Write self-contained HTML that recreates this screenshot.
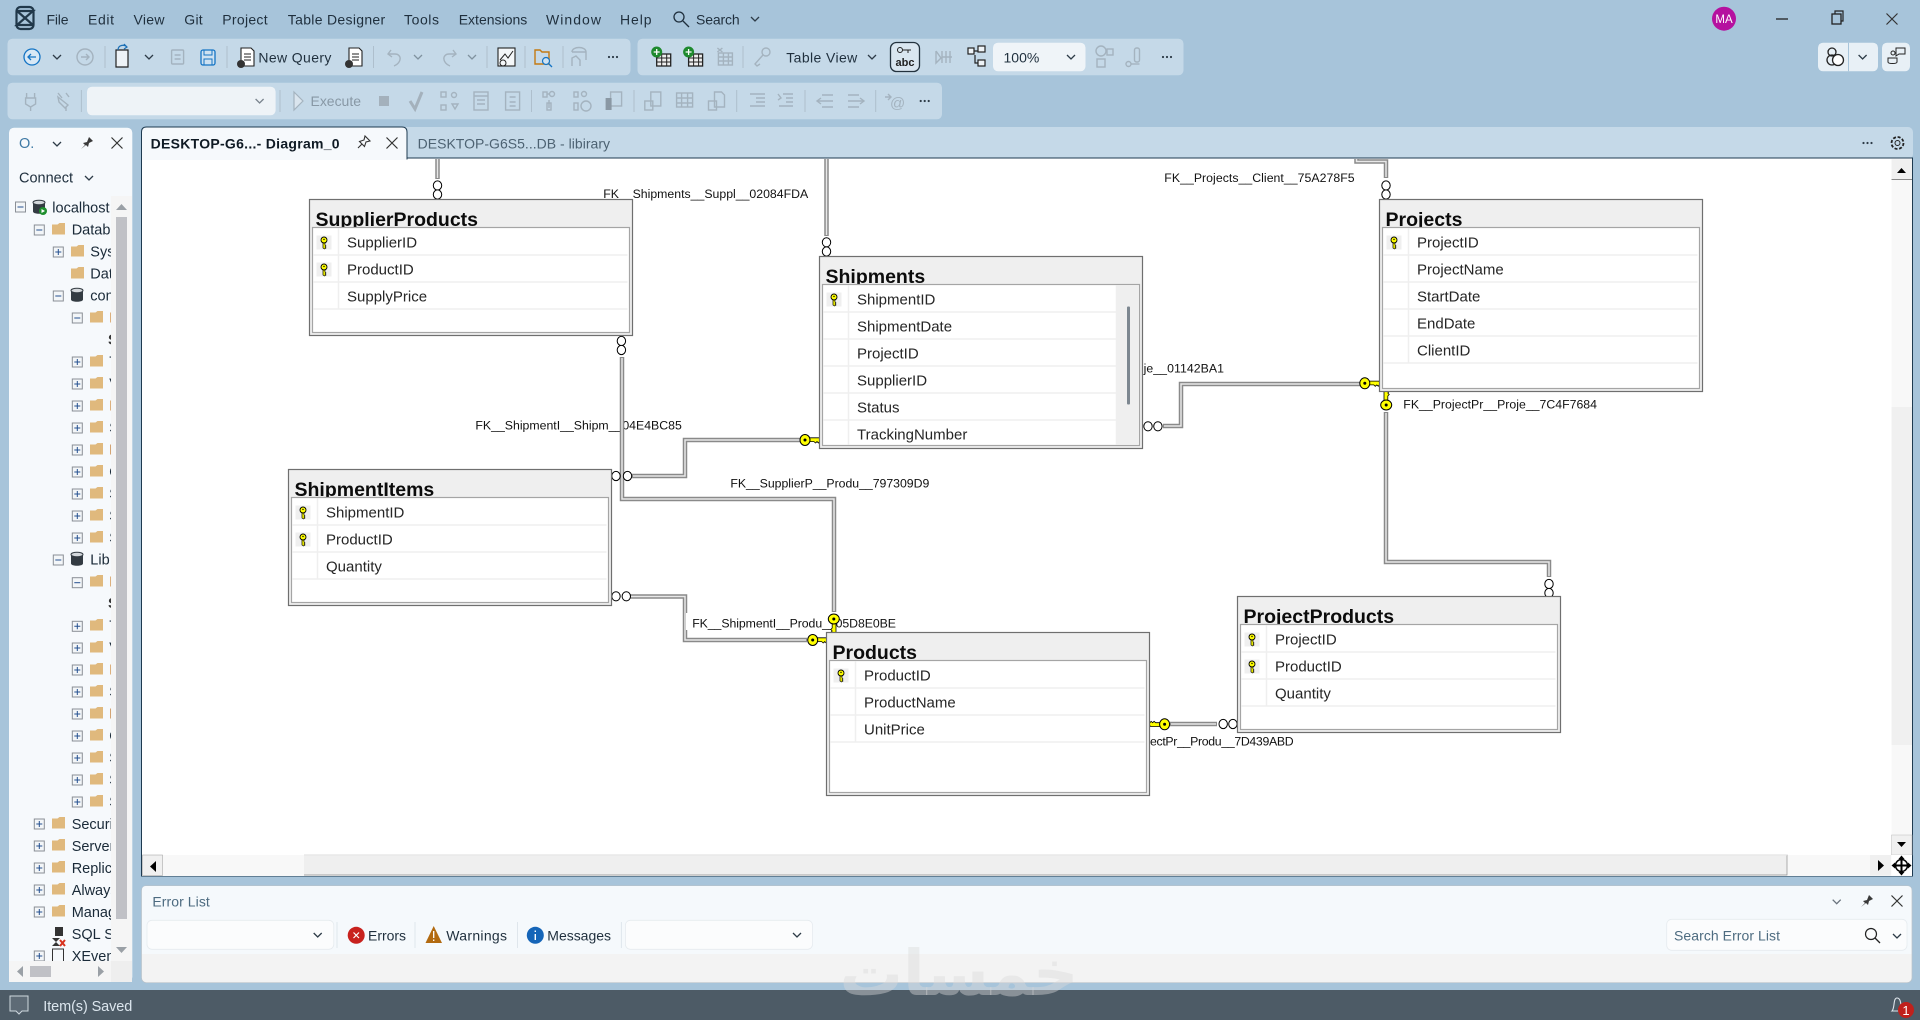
<!DOCTYPE html>
<html><head><meta charset="utf-8"><title>Diagram</title>
<style>
html,body{margin:0;padding:0;background:#a7c4da;width:1920px;height:1020px;overflow:hidden}
svg{display:block;position:absolute;left:0;top:0}
text{font-family:"Liberation Sans",sans-serif;white-space:pre}
.m{font-size:14px;fill:#1f2f3d}
.lb{font-size:12.3px;fill:#111}
.f{font-size:15px;fill:#262626}
.t{font-size:19.5px;font-weight:bold;fill:#0c0c0c}
.tr{font-size:14.5px;fill:#1a2a38}
.c{stroke:#8a8a8a;stroke-width:4.5;fill:none}
.d{stroke:#e8e8e8;stroke-width:1.5;fill:none}
.row{stroke:#efefef;stroke-width:1.5}
.sep{stroke:#aebfcd;stroke-width:1}
.ch{stroke:#2d3b47;stroke-width:1.3;fill:none}
.g{fill:none;stroke:#a4b3bf;stroke-width:1.4}
</style></head><body>
<svg width="1920" height="1020" viewBox="0 0 1920 1020" xmlns="http://www.w3.org/2000/svg">
<defs>
<g id="k"><path d="M4 -2.200H14L15 -1V1L13.500 3L12 1.600L10.500 3L9 1.600H4Z" fill="#ff0" stroke="#000" stroke-width=".8"/><ellipse rx="5" ry="5.500" fill="#ff0" stroke="#000" stroke-width="1"/><circle r="1.500" fill="#000"/></g>
<g id="sk"><rect x="-7.500" y="-7" width="15" height="14" fill="#efefef"/><path d="M-1 0V5.500L0.500 6.500L2 5.500L1 4.500L2 3.500L1 2.500V0Z" fill="#ff0" stroke="#000" stroke-width=".7"/><circle cy="-2.500" r="3" fill="#ff0" stroke="#000" stroke-width=".9"/><circle cy="-3" r=".7" fill="#000"/></g>
<g id="o"><ellipse rx="4.200" ry="4.600" fill="#fff" stroke="#000" stroke-width="1"/></g>
<g id="ch"><path class="ch" d="M-4 -2L0 2L4 -2"/></g>
<g id="x"><path d="M-5.500 -5.500L5.500 5.500M5.500 -5.500L-5.500 5.500" stroke="#333" stroke-width="1.200" fill="none"/></g>
<g id="pin"><path d="M-6 6L-2 2L-4 0L0 -1L2 -6L6 -2L2 0L1 4L-1 2Z" fill="#3a3a3a"/></g>
<g id="fo"><path d="M-6.500 -4.500L-1 -4.500L1 -6L6.500 -6V5.500H-6.500Z" fill="#e0b97d"/></g>
<g id="pl"><rect x="-5" y="-5" width="10" height="10" fill="#f3f6f8" stroke="#8a8f96" stroke-width="1"/><path d="M-3 0H3M0 -3V3" stroke="#24508f" stroke-width="1"/></g>
<g id="mi"><rect x="-5" y="-5" width="10" height="10" fill="#f3f6f8" stroke="#8a8f96" stroke-width="1"/><path d="M-3 0H3" stroke="#24508f" stroke-width="1"/></g>
<g id="db"><path d="M-6 -4.500V4.500C-6 7.500 6 7.500 6 4.500V-4.500Z" fill="#333b42"/><ellipse cy="-4.500" rx="6" ry="2.300" fill="#d4d8dc" stroke="#333b42" stroke-width="1"/></g>
<g id="gi"><rect x="-6" y="-7" width="12" height="14" rx="1" class="g"/><path class="g" d="M-3 -2H3M-3 2H3"/></g>
<g id="dt"><circle cx="-4" r="1.100" fill="#2d3b47"/><circle r="1.100" fill="#2d3b47"/><circle cx="4" r="1.100" fill="#2d3b47"/></g>
<clipPath id="tc"><rect x="0" y="195" width="111" height="766"/></clipPath>
</defs>

<rect width="1920" height="1020" fill="#a7c4da"/>

<!-- logo -->
<rect x="16.500" y="7" width="17" height="22" rx="4" fill="none" stroke="#21384a" stroke-width="2.200"/>
<path d="M17 11H33L17 25H33M17 11L33 25" fill="none" stroke="#21384a" stroke-width="2.200"/>

<!-- menu -->
<text class="m" x="46.500" y="24.500" textLength="22">File</text><text class="m" x="88" y="24.500" textLength="26">Edit</text><text class="m" x="133.500" y="24.500" textLength="31">View</text><text class="m" x="184.300" y="24.500" textLength="18.400">Git</text><text class="m" x="222.300" y="24.500" textLength="45.300">Project</text><text class="m" x="287.800" y="24.500" textLength="97.400">Table Designer</text><text class="m" x="404" y="24.500" textLength="35">Tools</text><text class="m" x="458.700" y="24.500" textLength="68.600">Extensions</text><text class="m" x="546" y="24.500" textLength="55">Window</text><text class="m" x="620" y="24.500" textLength="31.600">Help</text>
<circle cx="679" cy="17" r="5" fill="none" stroke="#1f2f3d" stroke-width="1.300"/><path d="M683 21L689 27" stroke="#1f2f3d" stroke-width="1.300"/>
<text class="m" x="696" y="24.500" textLength="43.700">Search</text><use href="#ch" x="755" y="19"/>

<circle cx="1724" cy="18.700" r="12" fill="#b5119f"/><text x="1724" y="23" text-anchor="middle" font-size="11.500" fill="#fff">MA</text>
<path d="M1776 19H1788" stroke="#222" stroke-width="1.300"/>
<rect x="1832" y="14" width="9" height="10" fill="none" stroke="#222" stroke-width="1.300"/><path d="M1835 14V11H1843V21H1841" fill="none" stroke="#222" stroke-width="1.200"/>
<use href="#x" x="1892" y="19"/>

<!-- toolbars -->
<rect x="7.500" y="38.700" width="623" height="36.600" rx="5" fill="#c5d9e8"/>
<rect x="637.500" y="38.700" width="546" height="36.600" rx="5" fill="#c5d9e8"/>
<rect x="7.500" y="82.700" width="934.500" height="36.600" rx="5" fill="#c5d9e8"/>

<circle cx="32" cy="57" r="8" fill="#d8e8f5" stroke="#1474c4" stroke-width="1.300"/><path d="M36 57H28M31 54L28 57L31 60" stroke="#1474c4" fill="none" stroke-width="1.300"/>
<use href="#ch" x="57" y="57"/>
<circle cx="85" cy="57" r="8" class="g"/><path d="M81 57H89M86 54L89 57L86 60" class="g"/>
<path d="M105 46V68" class="sep"/>
<path d="M116 50H128V67H116Z" fill="#eef3f7" stroke="#222" stroke-width="1.200"/><path d="M118 50C118 45 124 44 127 47M124 44L127 47L124 49" fill="none" stroke="#1b6fb5" stroke-width="1.200"/>
<use href="#ch" x="149" y="57"/>
<use href="#gi" x="177.600" y="57"/>
<rect x="201" y="50" width="14" height="15" rx="2" fill="#cfe2f1" stroke="#1474c4" stroke-width="1.300"/><rect x="204" y="50" width="8" height="5" fill="none" stroke="#1474c4"/><rect x="204" y="59" width="8" height="6" fill="none" stroke="#1474c4"/>
<path d="M227 46V68" class="sep"/>
<path d="M241 48H251L254 51V66H241Z" fill="#fff" stroke="#222" stroke-width="1.100"/><path d="M244 54H251M244 57H251M244 60H251" stroke="#222"/><ellipse cx="241" cy="64" rx="4" ry="4" fill="#333"/>
<text class="m" x="258.400" y="62.700" textLength="73">New Query</text>
<path d="M349 48H359L362 51V66H349Z" fill="#fff" stroke="#222" stroke-width="1.100"/><path d="M352 54H359M352 57H359M352 60H359" stroke="#222"/><ellipse cx="349" cy="64" rx="4" ry="4" fill="#333"/>
<path d="M373.500 46V68" class="sep"/>
<path class="g" d="M391 50L388 54L392 57M388 54H395C402 54 402 63 394 66"/><use href="#ch" x="418" y="57" opacity=".45"/>
<path class="g" d="M453 50L456 54L452 57M456 54H449C442 54 442 63 450 66"/><use href="#ch" x="472" y="57" opacity=".45"/>
<path d="M487 46V68" class="sep"/>
<rect x="498" y="48" width="17" height="18" fill="#f4f7f9" stroke="#222" stroke-width="1.100"/><path d="M500 60L505 54L508 58L513 51" stroke="#222" fill="none"/><circle cx="503" cy="63" r="3" fill="none" stroke="#222"/>
<path d="M525 46V68" class="sep"/>
<path d="M535 50H540L542 52H549V64H535Z" fill="none" stroke="#c47a12" stroke-width="1.400"/><circle cx="546" cy="61" r="3.500" fill="#cfe2f1" stroke="#1474c4" stroke-width="1.200"/><path d="M549 64L552 67" stroke="#1474c4" stroke-width="1.300"/>
<path d="M563 46V68" class="sep"/>
<path class="g" d="M572 52C572 46 586 46 586 52V60M572 52H586M572 66V58L576 56L580 60V66"/>
<use href="#dt" x="613" y="57"/>

<g transform="translate(660.700,57)"><rect x="-4" y="-3" width="14" height="12" fill="#eee" stroke="#222" stroke-width="1.300"/><path d="M-4 1H10M-4 5H10M1 -3V9M6 -3V9" stroke="#222"/><circle cx="-4" cy="-5" r="5.500" fill="#1e8a2e"/><path d="M-7 -5H-1M-4 -8V-2" stroke="#fff" stroke-width="1.300"/></g>
<g transform="translate(692.600,57)"><rect x="-4" y="-3" width="14" height="12" fill="#eee" stroke="#222" stroke-width="1.300"/><path d="M-4 1H10M-4 5H10M1 -3V9M6 -3V9" stroke="#222"/><circle cx="-4" cy="-5" r="5.500" fill="#1e8a2e"/><path d="M-7 -5H-1M-4 -8V-2" stroke="#fff" stroke-width="1.300"/></g>
<g transform="translate(724.400,57)"><rect x="-6" y="-4" width="14" height="12" class="g"/><path class="g" d="M-6 0H8M-6 4H8M-1 -4V8M4 -4V8M-7 -9L-2 -5M-2 -9L-7 -5"/></g>
<path d="M743 46V68" class="sep"/>
<circle cx="766" cy="52" r="4" class="g"/><path class="g" d="M763 55L755 64L757 66L760 64"/>
<text class="m" x="786.300" y="62.700" textLength="71">Table View</text><use href="#ch" x="872" y="57"/>
<rect x="890.500" y="42.500" width="29" height="29" rx="6" fill="#d9e6f0" stroke="#23323e" stroke-width="1.300"/>
<circle cx="900" cy="50" r="2.500" fill="none" stroke="#222"/><path d="M903 50H911M908 50V53" stroke="#222"/><text x="905" y="66" text-anchor="middle" font-size="11" font-weight="bold" fill="#222">abc</text>
<g transform="translate(943,57)"><path class="g" d="M-7 -6V6L-2 1L-7 -6M-1 -6V6M3 -6V6M7 -6V6M-1 0H9"/></g>
<g fill="#eef3f7" stroke="#222" stroke-width="1.200"><rect x="968" y="48" width="6" height="6"/><rect x="978" y="46" width="7" height="6"/><rect x="978" y="60" width="7" height="6"/><path d="M974 51H978M975 55V63H978" fill="none"/></g>
<rect x="993" y="42.700" width="92.500" height="28.600" rx="5" fill="#eff4f8"/><text class="m" x="1003.500" y="62.700">100%</text><use href="#ch" x="1071" y="57"/>
<g transform="translate(1104,57)"><circle cx="-3" cy="-6" r="5" class="g"/><rect x="3" y="-8" width="6" height="6" class="g"/><rect x="-7" y="2" width="8" height="8" class="g"/></g>
<g transform="translate(1134.500,57)"><rect x="0" y="-9" width="5" height="14" rx="2" class="g"/><circle cx="-6" cy="7" r="2.500" class="g"/><path class="g" d="M-4 7H5"/></g>
<use href="#dt" x="1167" y="57"/>

<rect x="1818" y="42.700" width="60" height="28.600" rx="5" fill="#e8f0f6"/><path d="M1848.500 42.700V71.300" stroke="#a7c4da"/>
<circle cx="1832" cy="52" r="4" fill="none" stroke="#222" stroke-width="1.300"/><circle cx="1832" cy="60" r="5" fill="none" stroke="#222" stroke-width="1.300"/><circle cx="1838" cy="60" r="5.500" fill="#fff" stroke="#222" stroke-width="1.300"/>
<use href="#ch" x="1862.600" y="57"/>
<rect x="1882" y="42.700" width="28" height="28.600" rx="5" fill="#e8f0f6"/>
<circle cx="1893" cy="53" r="2" fill="none" stroke="#222"/><path d="M1888 58H1897V62C1897 64 1888 64 1888 62Z" fill="none" stroke="#222"/><path d="M1896 48H1905V54H1899L1896 56Z" fill="none" stroke="#222"/>

<!-- toolbar 2 -->
<g transform="translate(30.600,101)"><path class="g" d="M-4 -8V-3M4 -8V-3M-5 -3H5V3L0 6V10L0 6L-5 3Z"/></g>
<g transform="translate(64,101)"><path class="g" d="M-6 -8L-2 -3M2 -8L5 -4M-6 -4L4 4L1 7L-5 1ZM2 6V10"/></g>
<path d="M81.400 90V112" class="sep"/>
<rect x="87" y="86.700" width="188.600" height="28.600" rx="5" fill="#eef3f7"/><use href="#ch" x="259.600" y="101" opacity=".6"/>
<path d="M280 90V112" class="sep"/>
<path d="M294 92L303 101L294 110Z" fill="#dae5ee" stroke="#a4b3bf" stroke-width="1.200"/>
<text class="m" x="310.500" y="106" textLength="50.500" style="fill:#8898a5">Execute</text>
<rect x="379" y="96" width="10" height="10" fill="#a4b1bc"/>
<path d="M410 101L415 109L422 92" fill="none" stroke="#a4b1bc" stroke-width="3"/>
<g transform="translate(449,101)"><rect x="-8" y="-9" width="5" height="5" class="g"/><circle cx="5" cy="-6" r="2.500" class="g"/><rect x="-8" y="4" width="5" height="5" class="g"/><path class="g" d="M3 3H9L6 8Z"/></g>
<g transform="translate(481,101)"><rect x="-7" y="-9" width="14" height="18" class="g"/><path class="g" d="M-7 -5H7M-4 -1H4M-4 3H4"/></g>
<g transform="translate(512.600,101)"><rect x="-7" y="-9" width="14" height="18" class="g"/><path class="g" d="M-3 -4H3M-3 1H3M-3 5H3"/></g>
<path d="M531.500 90V112" class="sep"/>
<g transform="translate(549,101)"><rect x="-6" y="-9" width="4" height="5" class="g"/><circle cx="3" cy="-7" r="2.500" class="g"/><path class="g" d="M-2 -7H0M0 -1V7"/><rect x="-2" y="2" width="4" height="7" class="g"/></g>
<g transform="translate(582,101)"><rect x="-8" y="-9" width="4" height="5" class="g"/><circle cx="2" cy="-7" r="2.500" class="g"/><rect x="-8" y="2" width="4" height="7" class="g"/><circle cx="4" cy="5" r="5" class="g"/></g>
<g transform="translate(613.600,101)"><rect x="-3" y="-9" width="11" height="14" class="g"/><rect x="-8" y="-3" width="6" height="12" fill="#8a98a4"/></g>
<path d="M634 90V112" class="sep"/>
<g transform="translate(652.800,101)"><rect x="-2" y="-9" width="10" height="14" class="g"/><rect x="-8" y="0" width="8" height="9" class="g"/></g>
<g transform="translate(684.600,101)"><rect x="-8" y="-8" width="16" height="14" class="g"/><path class="g" d="M-8 -3H8M-8 2H8M-3 -8V6M3 -8V6"/></g>
<g transform="translate(716.500,101)"><path class="g" d="M-2 -9H5L8 -6V6H-2Z"/><rect x="-8" y="0" width="8" height="9" class="g"/></g>
<path d="M736.700 90V112" class="sep"/>
<g transform="translate(758,101)"><path class="g" d="M-8 -7H7M-2 -3H7M-2 1H7M-8 5H7"/></g>
<g transform="translate(785,101)"><path class="g" d="M-2 -7H8M1 -3H8M1 1H8M-6 5H8M-7 -7L-4 -3L-7 -1"/></g>
<path d="M805 90V112" class="sep"/>
<g transform="translate(825,101)"><path class="g" d="M-3 -6H8M-8 0H8M-3 6H8M-4 -3L-8 0L-4 3"/></g>
<g transform="translate(856,101)"><path class="g" d="M-8 -6H3M-8 0H8M-8 6H3M4 -3L8 0L4 3"/></g>
<path d="M875.700 90V112" class="sep"/>
<g transform="translate(894,101)"><path class="g" d="M-9 -4H-3M-6 -7L-3 -4L-6 -1"/><text x="-4" y="7" font-size="15" fill="#a4b3bf">@</text></g>
<use href="#dt" x="924.700" y="101"/>

<!-- left panel -->
<rect x="9" y="127.700" width="123.300" height="854.300" rx="5" fill="#f6f9fc"/>
<text x="19" y="148" font-size="14.500" fill="#3f7aa5">O.</text>
<use href="#ch" x="57" y="144"/><use href="#pin" x="87" y="143"/><use href="#x" x="117" y="143"/>
<text x="19" y="182.700" font-size="14.500" fill="#1f2f3d">Connect</text><use href="#ch" x="89" y="178"/>

<rect x="111" y="196" width="21" height="786" fill="#f5f5f5"/>
<rect x="116" y="217" width="11" height="702" fill="#c0c1c6"/>
<path d="M116 210L121.500 204L127 210Z" fill="#9aa0a6"/><path d="M116 947L121.500 953L127 947Z" fill="#9aa0a6"/>
<rect x="9" y="961" width="102" height="21" fill="#f5f5f5"/><rect x="111" y="961" width="21" height="21" fill="#eeeeee"/>
<rect x="30" y="966" width="21" height="11" fill="#c0c1c6"/>
<path d="M23 966V977L17 971.500Z" fill="#9aa0a6"/><path d="M98 966V977L104 971.500Z" fill="#9aa0a6"/>

<g clip-path="url(#tc)">
<use href="#mi" x="20.500" y="207"/><use href="#db" x="39" y="207"/><circle cx="43" cy="211" r="4" fill="#1f8f2e"/><path d="M41.500 209L45 211L41.500 213Z" fill="#fff"/>
<text class="tr" x="52.300" y="212.500">localhost</text>
<use href="#mi" x="39.300" y="230"/><use href="#fo" x="58.500" y="229"/><text class="tr" x="71.700" y="234.500">Databases</text>
<use href="#pl" x="58.300" y="252"/><use href="#fo" x="77.500" y="251"/><text class="tr" x="90.300" y="256.500">System Databases</text>
<use href="#fo" x="77.500" y="273"/><text class="tr" x="90.300" y="278.500">Database Snapshots</text>
<use href="#mi" x="58.300" y="296"/><use href="#db" x="77" y="295"/><text class="tr" x="90.300" y="300.500">construction</text>
<use href="#mi" x="77.300" y="318"/><use href="#fo" x="96.500" y="317"/><text class="tr" x="109.300" y="322.500" style="fill:#c8781e">Database Diagrams</text>
<text class="tr" x="108" y="344.500" font-weight="bold" style="fill:#333">S</text>
<use href="#pl" x="77.300" y="362"/><use href="#fo" x="96.500" y="361"/><text class="tr" x="109.300" y="366.500">Tables</text>
<use href="#pl" x="77.300" y="384"/><use href="#fo" x="96.500" y="383"/><text class="tr" x="109.300" y="388.500">Views</text>
<use href="#pl" x="77.300" y="406"/><use href="#fo" x="96.500" y="405"/><text class="tr" x="109.300" y="410.500" style="fill:#c8781e">External</text>
<use href="#pl" x="77.300" y="428"/><use href="#fo" x="96.500" y="427"/><text class="tr" x="109.300" y="432.500">Synonyms</text>
<use href="#pl" x="77.300" y="450"/><use href="#fo" x="96.500" y="449"/><text class="tr" x="109.300" y="454.500" style="fill:#b8640e">Programmability</text>
<use href="#pl" x="77.300" y="472"/><use href="#fo" x="96.500" y="471"/><text class="tr" x="109.300" y="476.500">Query</text>
<use href="#pl" x="77.300" y="494"/><use href="#fo" x="96.500" y="493"/><text class="tr" x="109.300" y="498.500">Service</text>
<use href="#pl" x="77.300" y="516"/><use href="#fo" x="96.500" y="515"/><text class="tr" x="109.300" y="520.500">Storage</text>
<use href="#pl" x="77.300" y="538"/><use href="#fo" x="96.500" y="537"/><text class="tr" x="109.300" y="542.500">Security</text>
<use href="#mi" x="58.300" y="560"/><use href="#db" x="77" y="559"/><text class="tr" x="90.300" y="564.500">Lib</text>
<use href="#mi" x="77.300" y="582.700"/><use href="#fo" x="96.500" y="581"/><text class="tr" x="109.300" y="586.500" style="fill:#c8781e">Database Diagrams</text>
<text class="tr" x="108" y="608" font-weight="bold" style="fill:#333">S</text>
<use href="#pl" x="77.300" y="626.300"/><use href="#fo" x="96.500" y="625"/><text class="tr" x="109.300" y="630.500">Tables</text>
<use href="#pl" x="77.300" y="648"/><use href="#fo" x="96.500" y="647"/><text class="tr" x="109.300" y="652.500">Views</text>
<use href="#pl" x="77.300" y="670"/><use href="#fo" x="96.500" y="669"/><text class="tr" x="109.300" y="674.500" style="fill:#c8781e">External</text>
<use href="#pl" x="77.300" y="692"/><use href="#fo" x="96.500" y="691"/><text class="tr" x="109.300" y="696.500">Synonyms</text>
<use href="#pl" x="77.300" y="714"/><use href="#fo" x="96.500" y="713"/><text class="tr" x="109.300" y="718.500" style="fill:#b8640e">Programmability</text>
<use href="#pl" x="77.300" y="736"/><use href="#fo" x="96.500" y="735"/><text class="tr" x="109.300" y="740.500">Query</text>
<use href="#pl" x="77.300" y="758"/><use href="#fo" x="96.500" y="757"/><text class="tr" x="109.300" y="762.500">Service</text>
<use href="#pl" x="77.300" y="780"/><use href="#fo" x="96.500" y="779"/><text class="tr" x="109.300" y="784.500">Storage</text>
<use href="#pl" x="77.300" y="802"/><use href="#fo" x="96.500" y="801"/><text class="tr" x="109.300" y="806.500">Security</text>
<use href="#pl" x="39.300" y="824"/><use href="#fo" x="58.500" y="823"/><text class="tr" x="71.700" y="829">Security</text>
<use href="#pl" x="39.300" y="846"/><use href="#fo" x="58.500" y="845"/><text class="tr" x="71.700" y="851">Server Objects</text>
<use href="#pl" x="39.300" y="868"/><use href="#fo" x="58.500" y="867"/><text class="tr" x="71.700" y="873">Replication</text>
<use href="#pl" x="39.300" y="890"/><use href="#fo" x="58.500" y="889"/><text class="tr" x="71.700" y="895">Always On</text>
<use href="#pl" x="39.300" y="912"/><use href="#fo" x="58.500" y="911"/><text class="tr" x="71.700" y="917">Management</text>
<rect x="55" y="927" width="8" height="9" fill="#333"/><path d="M52 938H60L52 946H60Z" fill="#333"/><path d="M60 940L65 946M65 940L60 946" stroke="#d8321e" stroke-width="2"/>
<text class="tr" x="71.700" y="939">SQL Server Agent</text>
<use href="#pl" x="39.300" y="956"/><rect x="52.500" y="949" width="11" height="13" fill="#f6f9fc" stroke="#333"/><text class="tr" x="71.700" y="961">XEvent Profiler</text>
</g>

<!-- doc well -->
<rect x="141.500" y="127" width="1771.500" height="32" rx="5" fill="#c5d9e8"/>
<rect x="141.500" y="158" width="1771" height="718" fill="#fff" stroke="#1e3a50" stroke-width="1"/>
<path d="M141.500 159V132Q141.500 127 146.500 127H402Q407 127 407 132V159Z" fill="#f6f9fc" stroke="#1e3a50" stroke-width="1"/>
<rect x="142" y="157" width="264.500" height="3" fill="#f6f9fc"/>
<text x="150.600" y="148.300" font-size="14px" font-weight="bold" fill="#0f1a24" textLength="189">DESKTOP-G6...- Diagram_0</text>
<path d="M358 148L362 144L359.500 141.500L364 140L365 136L370 141L366 142L364.500 146.500L362 144" fill="none" stroke="#333" stroke-width="1.100"/>
<use href="#x" x="392" y="143"/>
<text x="417.600" y="148.300" font-size="14px" fill="#4d6272" textLength="192.400">DESKTOP-G6S5...DB - libirary</text>
<use href="#dt" x="1867.500" y="143"/>
<circle cx="1897.500" cy="143" r="2.500" fill="none" stroke="#222"/><circle cx="1897.500" cy="143" r="6" fill="none" stroke="#222" stroke-width="1.800" stroke-dasharray="3 1.700"/>

<!-- labels -->
<text class="lb" x="603.200" y="198" textLength="205">FK__Shipments__Suppl__02084FDA</text>
<text class="lb" x="1164.300" y="182" textLength="190.300">FK__Projects__Client__75A278F5</text>
<text class="lb" x="475.400" y="429.300" textLength="206.400">FK__ShipmentI__Shipm__04E4BC85</text>
<text class="lb" x="1143.600" y="372.300" textLength="80.400">je__01142BA1</text>
<text class="lb" x="730.400" y="487.300" textLength="198.900">FK__SupplierP__Produ__797309D9</text>
<text class="lb" x="692.200" y="627.300" textLength="203.800">FK__ShipmentI__Produ__05D8E0BE</text>
<text class="lb" x="1403.300" y="408.300" textLength="193.700">FK__ProjectPr__Proje__7C4F7684</text>
<text class="lb" x="1150" y="745.300" textLength="143.600">ectPr__Produ__7D439ABD</text>

<!-- connectors -->
<g>
<path class="c" d="M437.500 159V179"/><path class="d" d="M437.500 159V178"/>
<path class="c" d="M826.500 159V236"/><path class="d" d="M826.500 159V235"/>
<path class="c" d="M1356.500 159V161.500H1386V178"/><path class="d" d="M1356.500 159V161.500H1386V177"/>
<path class="c" d="M622 357V499H834V612"/><path class="d" d="M622 358V499H834V611"/>
<path class="c" d="M632 476H685V440H801"/><path class="d" d="M633 476H685V440H800"/>
<path class="c" d="M630 596.500H685V640H807"/><path class="d" d="M631 596.500H685V640H806"/>
<rect x="686" y="613" width="5" height="17" fill="#fff"/>
<path class="c" d="M1163 426H1181V384H1360"/><path class="d" d="M1164 426H1181V384H1360"/>
<path class="c" d="M1386 412V562H1549V577"/><path class="d" d="M1386 413V562H1549V576"/>
<path class="c" d="M1170 724H1217"/><path class="d" d="M1171 724H1216"/>
</g>
<use href="#o" x="437.500" y="185.500"/><use href="#o" x="437.500" y="194.500"/>
<use href="#o" x="826.500" y="242.300"/><use href="#o" x="826.500" y="251.500"/>
<use href="#o" x="1386" y="185.500"/><use href="#o" x="1386" y="194.500"/>
<use href="#o" x="621.400" y="341"/><use href="#o" x="621.400" y="350"/>
<use href="#o" x="616" y="476"/><use href="#o" x="627.500" y="476"/>
<use href="#o" x="616" y="596.300"/><use href="#o" x="626.300" y="596.300"/>
<use href="#o" x="1148" y="426.300"/><use href="#o" x="1157.900" y="426.300"/>
<use href="#o" x="1549" y="584"/><use href="#o" x="1549" y="593"/>
<use href="#o" x="1223.200" y="724"/><use href="#o" x="1232.900" y="724"/>
<use href="#k" x="805" y="440"/>
<use href="#k" x="812.700" y="640"/>
<use href="#k" x="1364.800" y="383.300"/>
<use href="#k" transform="translate(1386.200,405) rotate(-90)"/>
<use href="#k" transform="translate(833.800,619) rotate(90)"/>
<use href="#k" transform="translate(1164.600,724.300) rotate(180)"/>

<!-- SupplierProducts -->
<g transform="translate(309.500,199.500)">
<rect width="323" height="136" fill="#efefef" stroke="#6f6f6f" stroke-width="1.200"/>
<text class="t" x="6" y="26.500">SupplierProducts</text>
<rect x="3" y="28" width="317" height="105" fill="#fff" stroke="#a5a5a5" stroke-width="1.200"/>
<path class="row" d="M4 55.500H318M4 82.500H318M4 109.500H318M29 29V109"/>
<use href="#sk" x="14.500" y="43"/><use href="#sk" x="14.500" y="70"/>
<text class="f" x="37.500" y="48">SupplierID</text><text class="f" x="37.500" y="75">ProductID</text><text class="f" x="37.500" y="102">SupplyPrice</text>
</g>
<!-- Shipments -->
<g transform="translate(819.500,256.500)">
<rect width="323" height="192" fill="#efefef" stroke="#6f6f6f" stroke-width="1.200"/>
<text class="t" x="6" y="26.500">Shipments</text>
<rect x="3" y="28" width="317" height="161" fill="#fff" stroke="#a5a5a5" stroke-width="1.200"/>
<rect x="297.500" y="29" width="22" height="159" fill="#efefef"/>
<rect x="307.500" y="50" width="3" height="98" fill="#7d8790" rx="1"/>
<path class="row" d="M4 55.500H297M4 82.500H297M4 109.500H297M4 136.500H297M4 163.500H297M29 29V188M297 29V188"/>
<use href="#sk" x="14.500" y="43"/>
<text class="f" x="37.500" y="48">ShipmentID</text><text class="f" x="37.500" y="75">ShipmentDate</text><text class="f" x="37.500" y="102">ProjectID</text><text class="f" x="37.500" y="129">SupplierID</text><text class="f" x="37.500" y="156">Status</text><text class="f" x="37.500" y="183">TrackingNumber</text>
</g>
<!-- Projects -->
<g transform="translate(1379.500,199.500)">
<rect width="323" height="192" fill="#efefef" stroke="#6f6f6f" stroke-width="1.200"/>
<text class="t" x="6" y="26.500">Projects</text>
<rect x="3" y="28" width="317" height="161" fill="#fff" stroke="#a5a5a5" stroke-width="1.200"/>
<path class="row" d="M4 55.500H318M4 82.500H318M4 109.500H318M4 136.500H318M4 163.500H318M29 29V163"/>
<use href="#sk" x="14.500" y="43"/>
<text class="f" x="37.500" y="48">ProjectID</text><text class="f" x="37.500" y="75">ProjectName</text><text class="f" x="37.500" y="102">StartDate</text><text class="f" x="37.500" y="129">EndDate</text><text class="f" x="37.500" y="156">ClientID</text>
</g>
<!-- ShipmentItems -->
<g transform="translate(288.500,469.500)">
<rect width="323" height="136" fill="#efefef" stroke="#6f6f6f" stroke-width="1.200"/>
<text class="t" x="6" y="26.500">ShipmentItems</text>
<rect x="3" y="28" width="317" height="105" fill="#fff" stroke="#a5a5a5" stroke-width="1.200"/>
<path class="row" d="M4 55.500H318M4 82.500H318M4 109.500H318M29 29V109"/>
<use href="#sk" x="14.500" y="43"/><use href="#sk" x="14.500" y="70"/>
<text class="f" x="37.500" y="48">ShipmentID</text><text class="f" x="37.500" y="75">ProductID</text><text class="f" x="37.500" y="102">Quantity</text>
</g>
<!-- Products -->
<g transform="translate(826.500,632.500)">
<rect width="323" height="163" fill="#efefef" stroke="#6f6f6f" stroke-width="1.200"/>
<text class="t" x="6" y="26.500">Products</text>
<rect x="3" y="28" width="317" height="132" fill="#fff" stroke="#a5a5a5" stroke-width="1.200"/>
<path class="row" d="M4 55.500H318M4 82.500H318M4 109.500H318M29 29V109"/>
<use href="#sk" x="14.500" y="43"/>
<text class="f" x="37.500" y="48">ProductID</text><text class="f" x="37.500" y="75">ProductName</text><text class="f" x="37.500" y="102">UnitPrice</text>
</g>
<!-- ProjectProducts -->
<g transform="translate(1237.500,596.500)">
<rect width="323" height="136" fill="#efefef" stroke="#6f6f6f" stroke-width="1.200"/>
<text class="t" x="6" y="26.500">ProjectProducts</text>
<rect x="3" y="28" width="317" height="105" fill="#fff" stroke="#a5a5a5" stroke-width="1.200"/>
<path class="row" d="M4 55.500H318M4 82.500H318M4 109.500H318M29 29V109"/>
<use href="#sk" x="14.500" y="43"/><use href="#sk" x="14.500" y="70"/>
<text class="f" x="37.500" y="48">ProjectID</text><text class="f" x="37.500" y="75">ProductID</text><text class="f" x="37.500" y="102">Quantity</text>
</g>

<!-- canvas scrollbars -->
<rect x="1891.500" y="159" width="20.500" height="696" fill="#f8f8f8"/>
<rect x="1891.500" y="407" width="20.500" height="338" fill="#f0f0f0"/>
<rect x="1891.500" y="159.500" width="20.500" height="20" fill="#f0f0f0"/><path d="M1891.500 179.500H1912" stroke="#8a8a8a"/>
<path d="M1897 173H1906L1901.500 168Z" fill="#000"/>
<rect x="1891.500" y="835" width="20.500" height="20" fill="#f0f0f0" stroke="#bbb" stroke-width=".5"/><path d="M1897 842H1906L1901.500 847Z" fill="#000"/>
<rect x="142" y="855" width="1770" height="21" fill="#f8f8f8"/>
<rect x="304" y="856" width="1483" height="19" fill="#efefef"/><path d="M304 855H1787V875H304" fill="none" stroke="#8f8f8f" stroke-width=".7"/><path d="M304 855H1787" stroke="#ddd"/>
<rect x="142.500" y="855" width="20" height="20.500" fill="#f0f0f0" stroke="#9a9a9a" stroke-width=".5"/><path d="M156 866L150 871.500L156 877" transform="translate(0,-5)" fill="#000"/>
<rect x="1870" y="855" width="21" height="20.500" fill="#f0f0f0"/><path d="M1878 860V871L1884 865.500Z" fill="#000"/>
<rect x="1891.500" y="855" width="20.500" height="20.500" fill="#fff"/>
<circle cx="1901.500" cy="865.500" r="6" fill="none" stroke="#000" stroke-width="1.500"/><path d="M1901.500 857V874M1893 865.500H1910" stroke="#000" stroke-width="2"/><path d="M1898.500 859H1904.500L1901.500 855.500ZM1898.500 872H1904.500L1901.500 875.500ZM1895 862.500V868.500L1891.500 865.500ZM1908 862.500V868.500L1911.500 865.500Z" fill="#000"/>

<!-- error panel -->
<rect x="141.500" y="885.700" width="1770.500" height="97" rx="5" fill="#f3f3f3" stroke="#b9c2c9" stroke-width=".7"/>
<path d="M142 954V890Q142 886 146 886H1907Q1911.500 886 1911.500 890V954Z" fill="#f5f9fc"/>
<text class="m" x="152.400" y="906.700" textLength="57.400" style="fill:#4d6b80">Error List</text>
<rect x="147" y="920.300" width="186.800" height="29" rx="5" fill="#fbfcfd" stroke="#e6ebef" stroke-width=".8"/><use href="#ch" x="317.700" y="935"/>
<path d="M337 922V948M415 922V948M517.500 922V948M621.400 922V948" stroke="#dfe6ec"/>
<circle cx="356.200" cy="935.300" r="8.500" fill="#c8221e"/><path d="M353.500 932.500L359 938M359 932.500L353.500 938" stroke="#fff" stroke-width="1.200"/>
<text class="m" x="368" y="940.700" textLength="38">Errors</text>
<path d="M433.700 926L442 943H425.500Z" fill="#b26a10"/><path d="M433.700 931V938M433.700 939.500V941" stroke="#fff" stroke-width="1.300"/>
<text class="m" x="446.300" y="940.700" textLength="60.700">Warnings</text>
<circle cx="535.300" cy="935.300" r="8.500" fill="#1565b8"/><path d="M535.300 934V940M535.300 930.500V932" stroke="#fff" stroke-width="1.400"/>
<text class="m" x="547.300" y="940.700" textLength="63.700">Messages</text>
<rect x="625.400" y="920.300" width="187.100" height="29" rx="5" fill="#fbfcfd" stroke="#e6ebef" stroke-width=".8"/><use href="#ch" x="797" y="935"/>
<use href="#ch" x="1836.700" y="901.700" opacity=".7"/><use href="#pin" x="1867" y="901"/><use href="#x" x="1897" y="901"/>
<rect x="1666.700" y="919.300" width="240.300" height="31" rx="5" fill="#fbfcfd" stroke="#e6ebef" stroke-width=".8"/>
<text class="m" x="1674" y="940.700" textLength="106" style="fill:#4d6b80">Search Error List</text>
<circle cx="1871" cy="934" r="5.500" fill="none" stroke="#222" stroke-width="1.200"/><path d="M1875 938L1880 943" stroke="#222" stroke-width="1.300"/><use href="#ch" x="1897" y="936"/>

<!-- status bar -->
<rect y="990" width="1920" height="30" fill="#4d5b66"/>
<path d="M10 996H28V1011H22L19 1014L16 1011H10Z" fill="#5e6b76" stroke="#cfd8df" stroke-width="1"/>
<text x="43.300" y="1011" font-size="14.500" fill="#dce6ee" textLength="89">Item(s) Saved</text>
<path d="M1892 1011C1895 1008 1893 998 1897 998C1902 998 1900 1008 1903 1011Z" fill="none" stroke="#dfe6ec" stroke-width="1.100"/>
<circle cx="1906" cy="1010" r="8" fill="#c0211c"/><text x="1906" y="1015" font-size="13" text-anchor="middle" fill="#fff">1</text>

<!-- watermark -->
<text x="959" y="995" text-anchor="middle" style="font-family:'DejaVu Sans',sans-serif" font-size="63" font-weight="bold" fill="#d9d9d9" fill-opacity=".43">خمسات</text>
</svg>
</body></html>
